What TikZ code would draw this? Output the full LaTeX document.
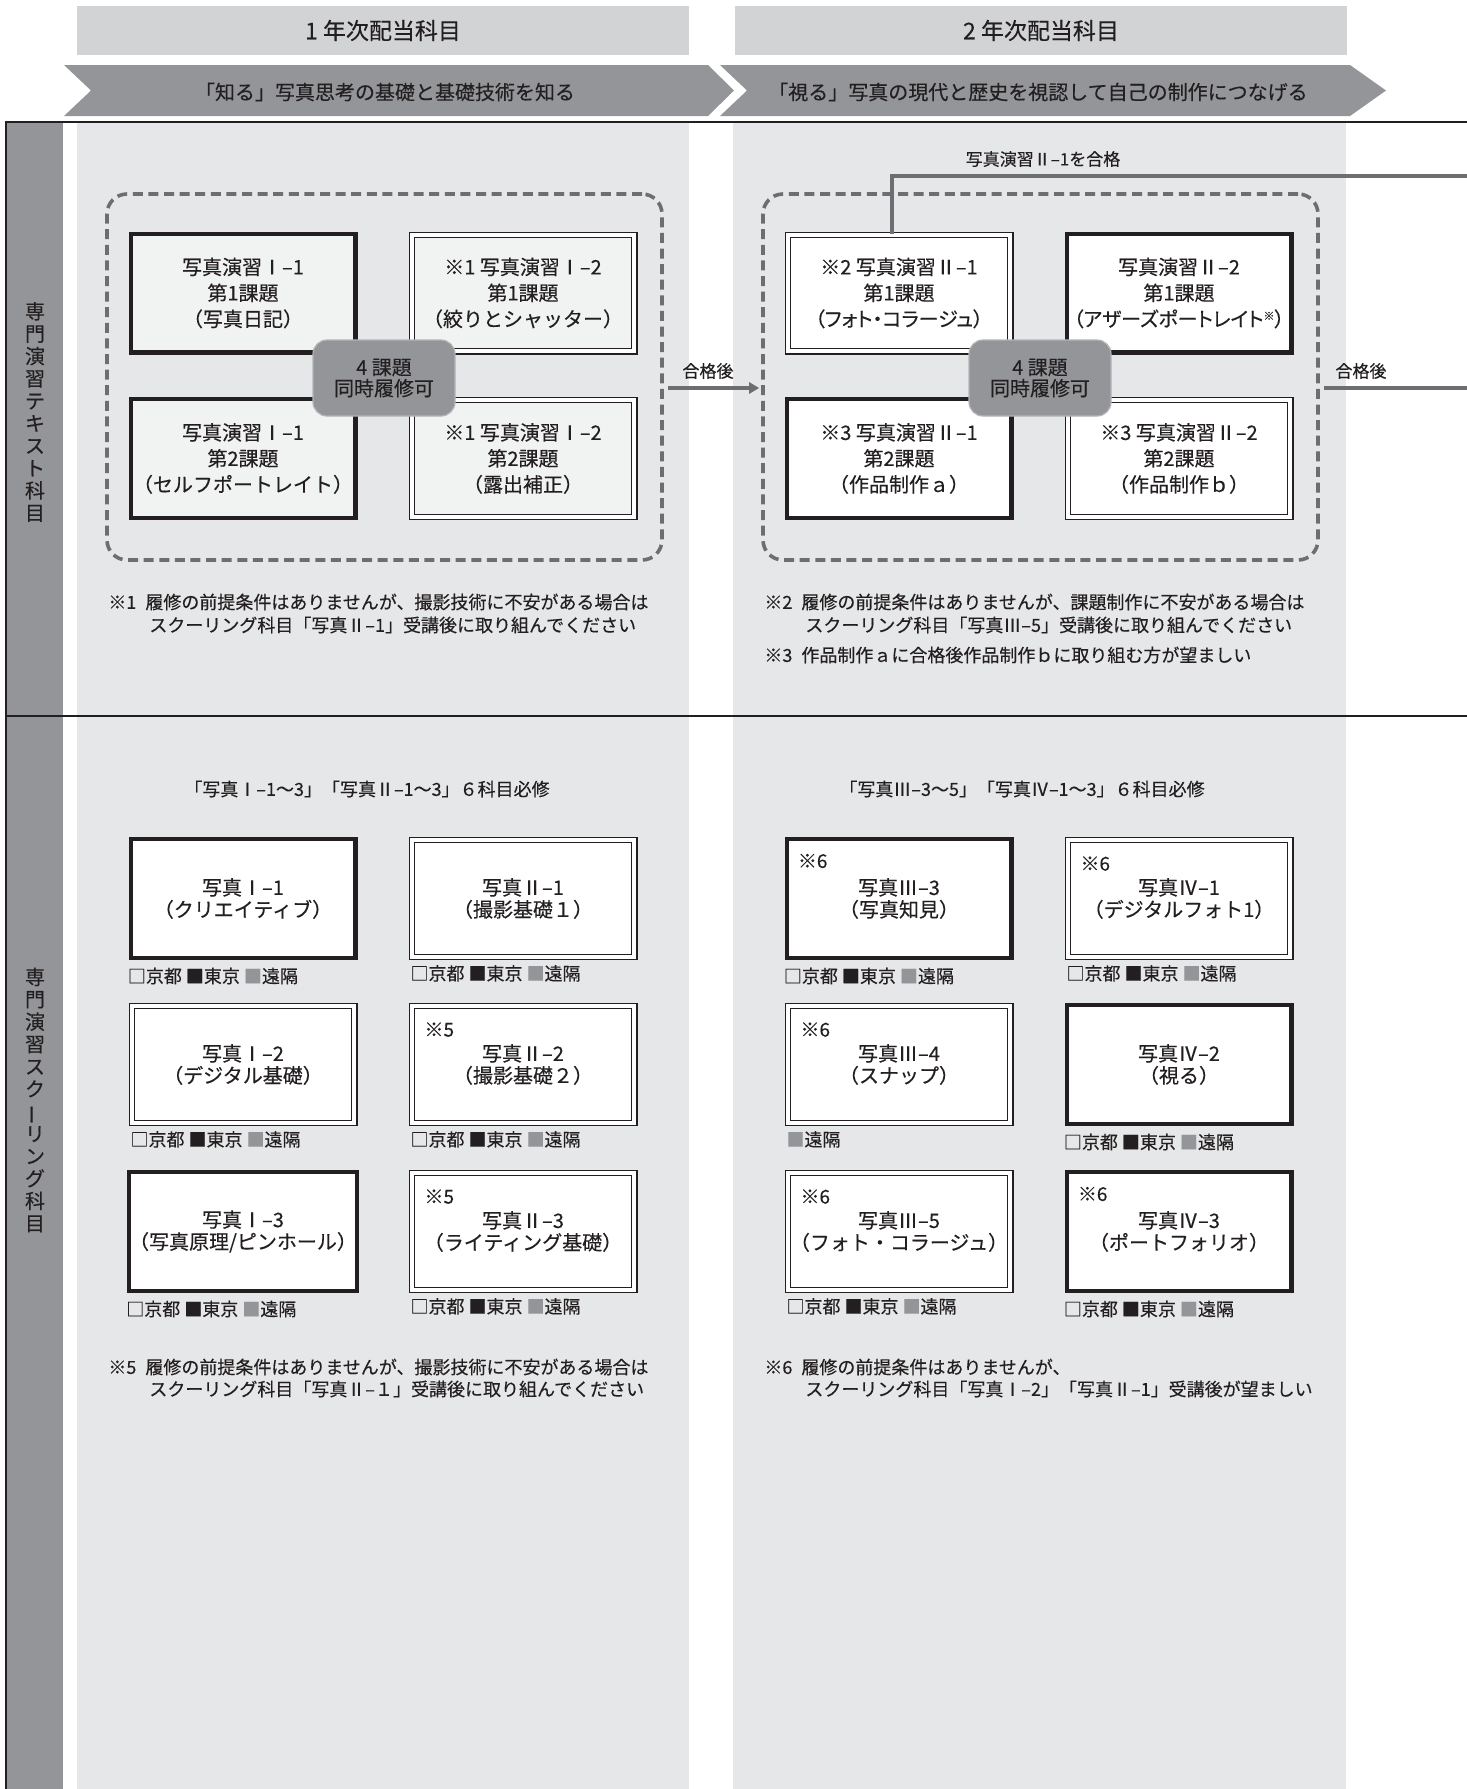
\documentclass[tikz,border=0pt]{standalone}
\usepackage{fontspec}
\setmainfont{Noto Sans CJK JP}[FakeBold=0.3]
\newfontfamily\palfont{Noto Sans CJK JP}[RawFeature=+palt,FakeBold=0.3]
\usetikzlibrary{arrows.meta,calc}
\definecolor{ink}{HTML}{231F20}
\definecolor{headgray}{HTML}{D1D3D4}
\definecolor{midgray}{HTML}{939598}
\definecolor{colgray}{HTML}{E6E7E8}
\definecolor{dashgray}{HTML}{6D6E71}
\definecolor{boxfill}{HTML}{F1F2F2}
\newcommand\myfs[2]{\fontsize{#1}{#2}\selectfont}
\newcommand\gsq{\textcolor{midgray}{■}}
\begin{document}
\begin{tikzpicture}[x=0.5pt,y=-0.5pt,
  every node/.style={text=ink},
  headbox/.style={fill=headgray, minimum width=306pt, minimum height=24.5pt, inner sep=0pt, font=\myfs{11.5pt}{12pt}},
  bantext/.style={inner sep=0pt, font=\myfs{10pt}{11pt}},
  vlabel/.style={inner sep=0pt, align=center, font=\myfs{10pt}{11.2pt}},
  tbox/.style={inner sep=0pt, align=center, font=\myfs{10pt}{13pt}},
  lbox/.style={inner sep=0pt, align=center, fill=white, font=\myfs{10pt}{11pt}},
  thickb/.style={draw=ink, line width=2.2pt, minimum width=112.3pt, minimum height=59.3pt},
  dblb/.style={draw=ink, double=white, double distance=2pt, line width=0.6pt, minimum width=111.3pt, minimum height=58.3pt},
  badge/.style={fill=midgray, draw=midgray!70!white, line width=0.6pt, rounded corners=7pt, minimum width=71pt, minimum height=38pt, inner sep=0pt, align=center, font=\myfs{10pt}{10.5pt}},
  grp/.style={draw=dashgray, dash pattern=on 5pt off 2.8pt, line width=1.8pt, rounded corners=10pt, minimum width=277.5pt, minimum height=183pt, inner sep=0pt},
  conn/.style={draw=dashgray, line width=1.6pt},
  small/.style={inner sep=0pt, font=\myfs{8.5pt}{9pt}},
  fnote/.style={inner sep=0pt, anchor=west, font=\myfs{9pt}{10pt}},
  legend/.style={inner sep=0pt, anchor=west, font=\myfs{9pt}{10pt}},
  refmark/.style={inner sep=0pt, anchor=west, font=\myfs{9.5pt}{10pt}}
]
\useasboundingbox (0,0) rectangle (1467,1789);
\fill[white] (0,0) rectangle (1467,1789);
% backgrounds
\fill[colgray] (77,122) rectangle (689,1789);
\fill[colgray] (733,122) rectangle (1346,1789);
\fill[midgray] (7,122) rectangle (63,1789);
\draw[ink, line width=0.75pt] (6,1789) -- (6,122) -- (1467,122);
\draw[ink, line width=0.75pt] (6,716) -- (1467,716);
% headers
\node[headbox] (h1) at (383,30.5) {1 年次配当科目};
\node[headbox] (h2) at (1041,30.5) {2 年次配当科目};
% banners
\fill[midgray] (64,65) -- (708,65) -- (734,90.5) -- (708,116) -- (64,116) -- (91,90.5) -- cycle;
\fill[midgray] (720,65) -- (1350,65) -- (1386,90.5) -- (1350,116) -- (720,116) -- (747,90.5) -- cycle;
\node[bantext] (bn1) at (385,92) {「知る」写真思考の基礎と基礎技術を知る};
\node[bantext] (bn2) at (1038,92) {「視る」写真の現代と歴史を視認して自己の制作につなげる};
% vertical labels
\node[vlabel] (v1) at (35,412) {専\\門\\演\\習\\テ\\キ\\ス\\ト\\科\\目};
\node[vlabel] (v2) at (35,1100) {専\\門\\演\\習\\ス\\ク\\\rotatebox[origin=c]{90}{ー}\\リ\\ン\\グ\\科\\目};
% groups
\node[grp] (g1) at (384.5,377) {};
\node[grp] (g2) at (1040.5,377) {};
% top boxes year 1
\node[tbox, thickb, fill=boxfill] (t1a) at (243,293) {写真演習Ⅰ–1\\第1課題\\（写真日記）};
\node[tbox, dblb, fill=boxfill] (t1b) at (523,293) {※1 写真演習Ⅰ–2\\第1課題\\（絞りとシャッター）};
\node[tbox, thickb, fill=boxfill] (t1c) at (243,458.5) {写真演習Ⅰ–1\\第2課題\\（セルフポートレイト）};
\node[tbox, dblb, fill=boxfill] (t1d) at (523,458.5) {※1 写真演習Ⅰ–2\\第2課題\\（露出補正）};
\node[badge] (b1) at (384,378) {4 課題\\同時履修可};
% top boxes year 2
\node[tbox, dblb, fill=white] (t2a) at (899,293) {※2 写真演習Ⅱ–1\\第1課題\\{\palfont （フォト・コラージュ）}};
\node[tbox, thickb, fill=white] (t2b) at (1179,293) {写真演習Ⅱ–2\\第1課題\\{\palfont （アザーズポートレイト\raisebox{0.6ex}{\myfs{5.5pt}{6pt}※}）}};
\node[tbox, thickb, fill=white] (t2c) at (899,458.5) {※3 写真演習Ⅱ–1\\第2課題\\（作品制作ａ）};
\node[tbox, dblb, fill=white] (t2d) at (1179,458.5) {※3 写真演習Ⅱ–2\\第2課題\\（作品制作ｂ）};
\node[badge] (b2) at (1040,378) {4 課題\\同時履修可};
% connectors
\coordinate (arrY) at (0,388);
\coordinate (rEdge) at (1467,388);
\coordinate (passEnd) at (1467,176);
\draw[conn, -{Triangle[length=5pt,width=5.5pt]}, shorten <=2pt, shorten >=1pt] (g1.east |- arrY) -- (g2.west |- arrY);
\draw[conn, shorten <=2pt] (g2.east |- arrY) -- (rEdge);
\draw[conn] ($(t2a.north)+(-7,0)$) |- (passEnd);
\node[small] (lab1) at (708,371) {合格後};
\node[small] (lab2) at (1361,371) {合格後};
\node[small] (lab3) at (1043,159) {写真演習Ⅱ–1を合格};
% top footnotes
\node[fnote] (fn1a) at (108,602) {※1\hspace{0.5em}履修の前提条件はありませんが、撮影技術に不安がある場合は};
\node[fnote] (fn1b) at (149,625) {スクーリング科目「写真Ⅱ–1」受講後に取り組んでください};
\node[fnote] (fn2a) at (764,602) {※2\hspace{0.5em}履修の前提条件はありませんが、課題制作に不安がある場合は};
\node[fnote] (fn2b) at (805,625) {スクーリング科目「写真Ⅲ–5」受講後に取り組んでください};
\node[fnote] (fn3) at (764,655) {※3\hspace{0.5em}作品制作ａに合格後作品制作ｂに取り組む方が望ましい};
% lower headers
\node[fnote, anchor=center] (lh1) at (367,789) {「写真Ⅰ–1～3」「写真Ⅱ–1～3」６科目必修};
\node[fnote, anchor=center] (lh2) at (1022,789) {「写真Ⅲ–3～5」「写真Ⅳ–1～3」６科目必修};
% lower boxes year 1
\node[lbox, thickb] (s1a) at (243,898.5) {写真Ⅰ–1\\（クリエイティブ）};
\node[lbox, dblb] (s1b) at (523,898.5) {写真Ⅱ–1\\（撮影基礎１）};
\node[lbox, dblb] (s1c) at (243,1064.5) {写真Ⅰ–2\\（デジタル基礎）};
\node[lbox, dblb] (s1d) at (523,1064.5) {写真Ⅱ–2\\（撮影基礎２）};
\node[lbox, thickb] (s1e) at (243,1231.5) {写真Ⅰ–3\\（写真原理/ピンホール）};
\node[lbox, dblb] (s1f) at (523,1231.5) {写真Ⅱ–3\\（ライティング基礎）};
% lower boxes year 2
\node[lbox, thickb] (s2a) at (899,898.5) {写真Ⅲ–3\\（写真知見）};
\node[lbox, dblb] (s2b) at (1179,898.5) {写真Ⅳ–1\\（デジタルフォト1）};
\node[lbox, dblb] (s2c) at (899,1064.5) {写真Ⅲ–4\\（スナップ）};
\node[lbox, thickb] (s2d) at (1179,1064.5) {写真Ⅳ–2\\（視る）};
\node[lbox, dblb] (s2e) at (899,1231.5) {写真Ⅲ–5\\（フォト・コラージュ）};
\node[lbox, thickb] (s2f) at (1179,1231.5) {写真Ⅳ–3\\（ポートフォリオ）};
% marks
\node[refmark] (m5a) at ($(s1d.north west)+(13,24)$) {※5};
\node[refmark] (m5b) at ($(s1f.north west)+(13,24)$) {※5};
\node[refmark] (m6a) at ($(s2a.north west)+(13,24)$) {※6};
\node[refmark] (m6b) at ($(s2b.north west)+(13,24)$) {※6};
\node[refmark] (m6c) at ($(s2c.north west)+(13,24)$) {※6};
\node[refmark] (m6d) at ($(s2e.north west)+(13,24)$) {※6};
\node[refmark] (m6e) at ($(s2f.north west)+(13,24)$) {※6};
% legends
\foreach \b in {s1a,s1b,s1c,s1d,s1e,s1f,s2a,s2b,s2d,s2e,s2f}{
  \node[legend] (lg-\b) at ($(\b.south west)+(-1,16)$) {□京都 ■東京 \gsq 遠隔};
}
\node[legend] (lg-s2c) at ($(s2c.south west)+(-1,16)$) {\gsq 遠隔};
% lower footnotes
\node[fnote] (fn5a) at (108,1367) {※5\hspace{0.5em}履修の前提条件はありませんが、撮影技術に不安がある場合は};
\node[fnote] (fn5b) at (149,1389) {スクーリング科目「写真Ⅱ–１」受講後に取り組んでください};
\node[fnote] (fn6a) at (764,1367) {※6\hspace{0.5em}履修の前提条件はありませんが、};
\node[fnote] (fn6b) at (805,1389) {スクーリング科目「写真Ⅰ–2」「写真Ⅱ–1」受講後が望ましい};
\end{tikzpicture}
\end{document}
